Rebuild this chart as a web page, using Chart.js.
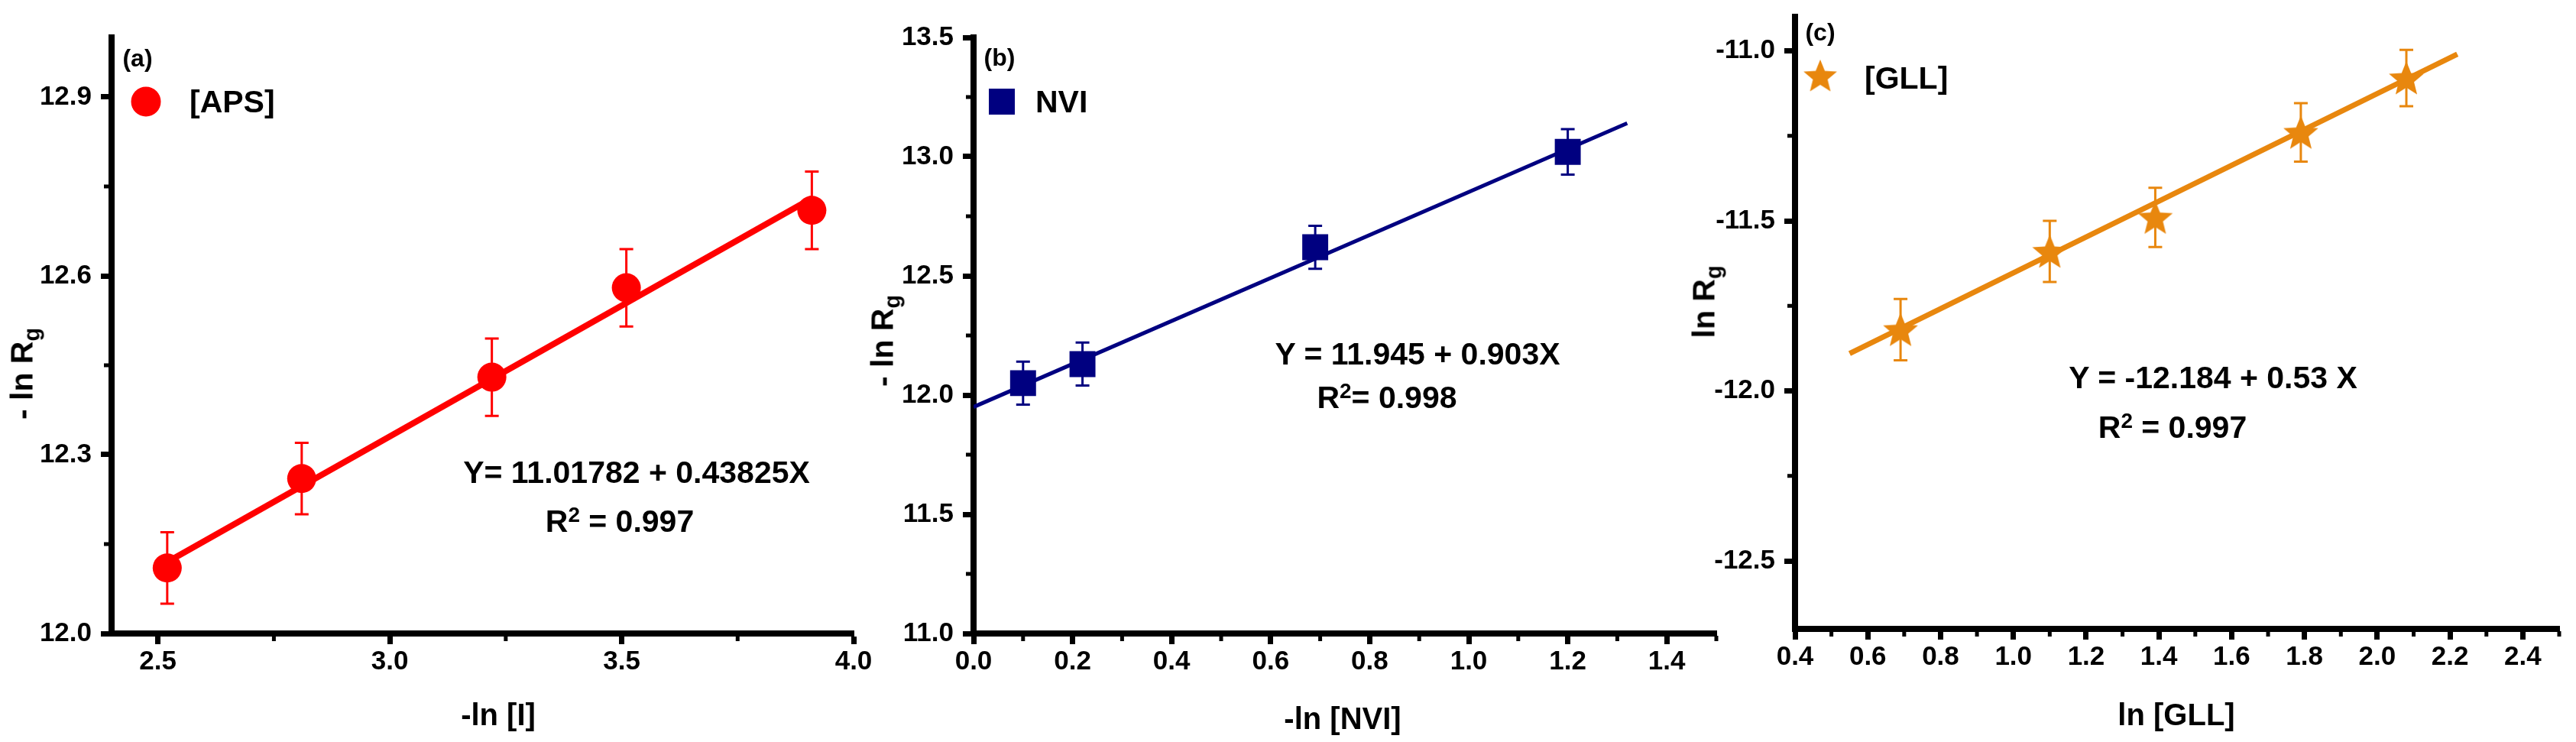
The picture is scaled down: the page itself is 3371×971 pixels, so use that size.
<!DOCTYPE html>
<html>
<head>
<meta charset="utf-8">
<script src="https://cdn.jsdelivr.net/npm/chart.js@4.4.0/dist/chart.umd.min.js"></script>
<style>
  body { margin: 0; background: #fff; }
  #wrap { position: relative; width: 3371px; height: 971px; overflow: hidden; background: #fff; }
  canvas { position: absolute; top: 0; }
  .t { position: absolute; font-family: 'Liberation Sans', Arial, sans-serif; font-weight: bold; color: #000; white-space: nowrap; line-height: 1; }
  .c { transform: translate(-50%, -50%); }
  .l { transform: translateY(-50%); }
  .rot { transform: translate(-50%, -50%) rotate(-90deg); }
  .sup { position: relative; top: -0.45em; font-size: 0.68em; }
  .sub { position: relative; top: 0.3em; font-size: 0.7em; }
</style>
</head>
<body>
<div id="wrap">
  <canvas id="chartA" width="1140" height="971" style="left:0px"></canvas>
  <canvas id="chartB" width="1130" height="971" style="left:1140px"></canvas>
  <canvas id="chartC" width="1171" height="971" style="left:2200px"></canvas>

  <div class="t c" style="left:180px; top:76px; font-size:32px;">(a)</div>
  <div class="t l" style="left:248px; top:133px; font-size:41px;">[APS]</div>
  <div class="t c" style="left:833px; top:618px; font-size:41px;">Y= 11.01782 + 0.43825X</div>
  <div class="t c" style="left:811px; top:682px; font-size:41px;">R<span class="sup">2</span> = 0.997</div>
  <div class="t rot" style="left:29px; top:489px; font-size:41px;">- ln R<span class="sub">g</span></div>
  <div class="t c" style="left:652px; top:935px; font-size:40px;">-ln [I]</div>

  <div class="t c" style="left:1308px; top:75px; font-size:32px;">(b)</div>
  <div class="t l" style="left:1355px; top:133px; font-size:41px;">NVI</div>
  <div class="t c" style="left:1855px; top:463px; font-size:41px;">Y = 11.945 + 0.903X</div>
  <div class="t c" style="left:1815px; top:520px; font-size:41px;">R<span class="sup">2</span>= 0.998</div>
  <div class="t rot" style="left:1155px; top:446px; font-size:41px;">- ln R<span class="sub">g</span></div>
  <div class="t c" style="left:1757px; top:940px; font-size:40px;">-ln [NVI]</div>

  <div class="t c" style="left:2382px; top:42px; font-size:32px;">(c)</div>
  <div class="t l" style="left:2440px; top:102px; font-size:41px;">[GLL]</div>
  <div class="t c" style="left:2896px; top:494px; font-size:41px;">Y = -12.184 + 0.53 X</div>
  <div class="t c" style="left:2843px; top:559px; font-size:41px;">R<span class="sup">2</span> = 0.997</div>
  <div class="t rot" style="left:2230px; top:395px; font-size:41px;">ln R<span class="sub">g</span></div>
  <div class="t c" style="left:2848px; top:935px; font-size:40px;">ln [GLL]</div>
</div>

<script>
// (a) -ln[I] vs -ln Rg
const xA = [2.52, 2.81, 3.22, 3.51, 3.91];
const yA = [12.11, 12.26, 12.43, 12.58, 12.71];
const errA = [0.06, 0.06, 0.065, 0.065, 0.065];
const fitXA = [2.52, 3.91];
const fitYA = [12.12, 12.73];
const xTicksA = [2.5, 3.0, 3.5, 4.0];
const yTicksA = [12.0, 12.3, 12.6, 12.9];
const xMinorA = [2.75, 3.25, 3.75];
const yMinorA = [12.15, 12.45, 12.75];

// (b) -ln[NVI] vs -ln Rg
const xB = [0.10, 0.22, 0.69, 1.20];
const yB = [12.05, 12.13, 12.62, 13.02];
const errB = [0.09, 0.09, 0.09, 0.095];
const fitXB = [0.0, 1.32];
const fitYB = [11.95, 13.14];
const xTicksB = [0.0, 0.2, 0.4, 0.6, 0.8, 1.0, 1.2, 1.4];
const yTicksB = [11.0, 11.5, 12.0, 12.5, 13.0, 13.5];
const xMinorB = [0.1, 0.3, 0.5, 0.7, 0.9, 1.1, 1.3, 1.5];
const yMinorB = [11.25, 11.75, 12.25, 12.75, 13.25];

// (c) ln[GLL] vs ln Rg
const xC = [0.69, 1.10, 1.39, 1.79, 2.08];
const yC = [-11.82, -11.59, -11.49, -11.24, -11.08];
const errC = [0.09, 0.09, 0.087, 0.086, 0.083];
const fitXC = [0.55, 2.22];
const fitYC = [-11.89, -11.01];
const xTicksC = [0.4, 0.6, 0.8, 1.0, 1.2, 1.4, 1.6, 1.8, 2.0, 2.2, 2.4];
const yTicksC = [-12.5, -12.0, -11.5, -11.0];
const xMinorC = [0.5, 0.7, 0.9, 1.1, 1.3, 1.5, 1.7, 1.9, 2.1, 2.3, 2.5];
const yMinorC = [-12.25, -11.75, -11.25];

const tickFont = { family: "'Liberation Sans', Arial, sans-serif", weight: 'bold', size: 35 };

function starImage(size, color) {
    const c = document.createElement('canvas');
    c.width = size; c.height = size;
    const g = c.getContext('2d');
    const r1 = size / 2, r2 = size * 0.22;
    g.fillStyle = color;
    g.beginPath();
    for (let i = 0; i < 10; i++) {
        const r = i % 2 ? r2 : r1;
        const a = -Math.PI / 2 + i * Math.PI / 5;
        g.lineTo(size / 2 + r * Math.cos(a), size / 2 + 2 + r * Math.sin(a));
    }
    g.closePath();
    g.fill();
    return c;
}

function makeChart(id, o) {
    const errorBars = {
        id: 'errorBars',
        beforeDatasetsDraw(chart) {
            const { ctx, scales: { x, y } } = chart;
            ctx.save();
            ctx.strokeStyle = o.color;
            ctx.lineWidth = 3;
            ctx.beginPath();
            o.xs.forEach(function (v, i) {
                const px = x.getPixelForValue(v);
                const top = y.getPixelForValue(o.ys[i] + o.errs[i]);
                const bot = y.getPixelForValue(o.ys[i] - o.errs[i]);
                ctx.moveTo(px, top); ctx.lineTo(px, bot);
                ctx.moveTo(px - 9, top); ctx.lineTo(px + 9, top);
                ctx.moveTo(px - 9, bot); ctx.lineTo(px + 9, bot);
            });
            ctx.stroke();
            ctx.restore();
        }
    };
    const minorTicks = {
        id: 'minorTicks',
        afterDraw(chart) {
            const { ctx, chartArea: a, scales: { x, y } } = chart;
            ctx.save();
            ctx.strokeStyle = '#000';
            ctx.lineWidth = 5;
            ctx.beginPath();
            o.xMinor.forEach(function (v) {
                const px = x.getPixelForValue(v);
                ctx.moveTo(px, a.bottom + 3); ctx.lineTo(px, a.bottom + 10);
            });
            o.yMinor.forEach(function (v) {
                const py = y.getPixelForValue(v);
                ctx.moveTo(a.left - 3, py); ctx.lineTo(a.left - 10, py);
            });
            ctx.stroke();
            ctx.restore();
        }
    };
    const legendMark = {
        id: 'legendMark',
        afterDraw(chart) {
            const ctx = chart.ctx;
            const m = o.mark;
            ctx.save();
            ctx.fillStyle = o.color;
            if (m.shape === 'circle') {
                ctx.beginPath();
                ctx.arc(m.cx, m.cy, m.size / 2, 0, Math.PI * 2);
                ctx.fill();
            } else if (m.shape === 'rect') {
                ctx.fillRect(m.cx - m.size / 2, m.cy - m.size / 2, m.size, m.size);
            } else {
                ctx.drawImage(o.pointStyle, m.cx - m.size / 2, m.cy - m.size / 2, m.size, m.size);
            }
            ctx.restore();
        }
    };

    const axis = function (min, max, ticks, fit) {
        return {
            type: 'linear',
            min: min,
            max: max,
            afterBuildTicks: function (s) { s.ticks = ticks.map(v => ({ value: v })); },
            afterFit: fit,
            border: { display: true, color: '#000', width: 8 },
            grid: { drawOnChartArea: false, drawTicks: true, tickLength: 14, tickWidth: 7, tickColor: '#000', color: '#000' },
            ticks: {
                font: tickFont, color: '#000', autoSkip: false, maxRotation: 0,
                callback: v => v.toFixed(1)
            }
        };
    };

    const xAxis = axis(o.xMin, o.xMax, o.xTicks, function (s) {
        s.height = o.xH; s.paddingLeft = 0; s.paddingRight = 0;
    });
    xAxis.ticks.padding = 2;
    const yAxis = axis(o.yMin, o.yMax, o.yTicks, function (s) {
        s.width = o.yW; s.paddingTop = 0; s.paddingBottom = 0;
    });
    yAxis.ticks.padding = 12;

    return new Chart(document.getElementById(id), {
        type: 'scatter',
        data: {
            datasets: [{
                label: o.label,
                data: o.xs.map((x, i) => ({ x: x, y: o.ys[i] })),
                pointStyle: o.pointStyle,
                pointRadius: o.radius,
                backgroundColor: o.color,
                borderColor: o.color,
                borderWidth: 0,
                order: 0
            }, {
                type: 'line',
                label: 'fit',
                data: o.fitX.map((x, i) => ({ x: x, y: o.fitY[i] })),
                showLine: true,
                borderColor: o.color,
                borderWidth: o.lineWidth,
                pointRadius: 0,
                fill: false,
                order: 1
            }]
        },
        options: {
            responsive: false,
            animation: false,
            layout: { padding: o.padding },
            plugins: { legend: { display: false }, tooltip: { enabled: false } },
            scales: { x: xAxis, y: yAxis }
        },
        plugins: [errorBars, minorTicks, legendMark]
    });
}

makeChart('chartA', {
    label: '[APS]', color: '#FF0000', pointStyle: 'circle', radius: 19, lineWidth: 8,
    xs: xA, ys: yA, errs: errA, fitX: fitXA, fitY: fitYA,
    xMin: 2.4, xMax: 4.0, yMin: 12.0, yMax: 13.0,
    xTicks: xTicksA, yTicks: yTicksA, xMinor: xMinorA, yMinor: yMinorA,
    padding: { top: 49, right: 23, left: 0, bottom: 0 }, yW: 146, xH: 142,
    mark: { shape: 'circle', cx: 191, cy: 133, size: 39 }
});

makeChart('chartB', {
    label: 'NVI', color: '#000080', pointStyle: 'rect', radius: 24, lineWidth: 5,
    xs: xB, ys: yB, errs: errB, fitX: fitXB, fitY: fitYB,
    xMin: 0.0, xMax: 1.5, yMin: 11.0, yMax: 13.5,
    xTicks: xTicksB, yTicks: yTicksB, xMinor: xMinorB, yMinor: yMinorB,
    padding: { top: 49, right: 21, left: 0, bottom: 0 }, yW: 134, xH: 142,
    mark: { shape: 'rect', cx: 171, cy: 133, size: 34 }
});

makeChart('chartC', {
    label: '[GLL]', color: '#E8870E', pointStyle: starImage(48, '#E8870E'), radius: 22, lineWidth: 7,
    xs: xC, ys: yC, errs: errC, fitX: fitXC, fitY: fitYC,
    xMin: 0.4, xMax: 2.5, yMin: -12.7, yMax: -10.9,
    xTicks: xTicksC, yTicks: yTicksC, xMinor: xMinorC, yMinor: yMinorC,
    padding: { top: 19, right: 16, left: 0, bottom: 0 }, yW: 149, xH: 148,
    mark: { shape: 'star', cx: 182, cy: 99, size: 46 }
});
</script>
</body>
</html>
